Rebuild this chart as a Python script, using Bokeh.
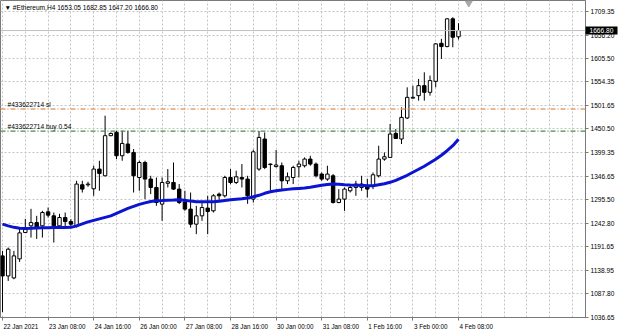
from bokeh.plotting import figure
from bokeh.models import FixedTicker, Range1d, Label, Span, PrintfTickFormatter, ColumnDataSource, LinearAxis
from bokeh.embed import file_html
from bokeh.resources import INLINE

# ---------------- data ----------------
chart_title = "\u25bc  #Ethereum,H4  1653.05 1682.85 1647.20 1666.80"

opens = [1171.1, 1127.0, 1122.6, 1164.5, 1222.4, 1237.2, 1244.4, 1237.2, 1268.0, 1259.2,
         1237.2, 1255.5, 1246.6, 1237.2, 1327.5, 1327.5, 1318.7, 1362.1, 1347.3, 1435.5,
         1442.7, 1391.4, 1417.2, 1398.7, 1343.6, 1376.6, 1340.1, 1321.6, 1285.0, 1330.8,
         1332.6, 1318.0, 1290.1, 1274.0, 1240.9, 1259.2, 1276.2, 1270.2, 1307.0, 1303.3,
         1343.6, 1332.6, 1343.6, 1340.1, 1296.0, 1362.1, 1428.2, 1373.1, 1367.5, 1369.4,
         1336.3, 1343.6, 1367.2, 1369.4, 1384.1, 1373.1, 1351.1, 1340.1, 1347.3, 1288.5,
         1296.0, 1314.3, 1321.6, 1321.6, 1325.3, 1325.3, 1347.3, 1384.1, 1387.7, 1440.5,
         1428.2, 1474.5, 1518.1, 1523.6, 1545.6, 1530.9, 1555.1, 1638.8, 1631.6, 1692.6,
         1653.05]
highs = [1182.1, 1189.4, 1182.1, 1230.6, 1252.6, 1274.6, 1259.2, 1270.2, 1277.5, 1266.5,
         1263.6, 1266.5, 1252.0, 1336.3, 1336.3, 1334.1, 1369.4, 1380.4, 1479.5, 1442.7,
         1446.5, 1446.5, 1446.5, 1406.2, 1380.4, 1380.4, 1347.3, 1343.6, 1343.6, 1362.1,
         1376.6, 1329.1, 1314.3, 1310.5, 1281.2, 1292.3, 1303.3, 1307.0, 1310.5, 1347.3,
         1362.1, 1358.4, 1373.1, 1347.3, 1404.7, 1446.0, 1442.7, 1374.5, 1404.0, 1376.6,
         1354.6, 1369.4, 1380.4, 1387.7, 1391.4, 1376.6, 1354.6, 1369.4, 1351.1, 1318.0,
         1321.6, 1325.3, 1336.3, 1347.3, 1340.7, 1354.6, 1413.4, 1398.7, 1461.3, 1450.2,
         1497.8, 1541.9, 1545.6, 1560.4, 1575.0, 1567.7, 1639.0, 1648.5, 1694.0, 1696.1,
         1682.85]
lows = [1047.7, 1116.0, 1119.7, 1157.8, 1221.7, 1211.4, 1208.5, 1211.4, 1255.5, 1200.4,
        1232.8, 1233.4, 1233.4, 1233.4, 1310.5, 1323.1, 1303.3, 1314.3, 1346.2, 1434.4,
        1384.1, 1380.4, 1395.8, 1310.5, 1314.3, 1296.0, 1307.0, 1281.2, 1248.2, 1321.6,
        1316.0, 1285.0, 1270.2, 1233.4, 1218.9, 1248.2, 1218.9, 1266.5, 1292.3, 1299.5,
        1329.1, 1329.1, 1321.6, 1285.7, 1288.5, 1358.4, 1362.0, 1314.3, 1365.6, 1318.0,
        1329.1, 1329.1, 1343.6, 1365.6, 1369.4, 1343.6, 1336.3, 1336.3, 1286.3, 1287.0,
        1270.2, 1310.5, 1303.3, 1314.3, 1299.5, 1318.0, 1343.6, 1380.4, 1387.7, 1428.2,
        1417.2, 1472.3, 1517.0, 1512.6, 1512.6, 1523.6, 1541.9, 1604.5, 1630.0, 1630.0,
        1647.20]
closes = [1127.0, 1185.8, 1171.1, 1221.7, 1233.4, 1244.4, 1233.4, 1266.5, 1260.7, 1237.2,
          1255.5, 1246.6, 1240.9, 1329.1, 1318.0, 1329.1, 1362.1, 1352.4, 1435.5, 1440.5,
          1391.4, 1418.5, 1398.7, 1347.3, 1376.6, 1340.1, 1321.6, 1288.5, 1332.6, 1334.1,
          1318.0, 1288.5, 1274.0, 1240.9, 1259.2, 1277.5, 1268.7, 1303.3, 1303.3, 1343.6,
          1332.6, 1345.1, 1340.1, 1303.3, 1400.0, 1431.7, 1365.6, 1372.0, 1371.0, 1336.3,
          1345.1, 1365.6, 1373.1, 1384.1, 1373.1, 1347.3, 1340.1, 1351.1, 1288.5, 1296.0,
          1318.0, 1321.6, 1329.1, 1329.1, 1318.0, 1349.5, 1384.1, 1389.2, 1439.2, 1429.5,
          1475.8, 1519.9, 1519.9, 1545.6, 1530.9, 1556.7, 1637.5, 1631.6, 1692.6, 1652.1,
          1666.80]
ma_values = [1240.9, 1237.2, 1233.9, 1231.7, 1231.2, 1231.7, 1232.3, 1232.8, 1233.2, 1233.4,
             1233.4, 1233.4, 1233.9, 1237.2, 1241.6, 1246.0, 1249.3, 1252.6, 1255.9, 1259.2,
             1264.7, 1270.2, 1275.7, 1280.1, 1284.5, 1287.8, 1290.7, 1292.3, 1292.9, 1293.6,
             1293.8, 1294.5, 1293.4, 1291.6, 1290.1, 1290.1, 1290.1, 1290.1, 1291.2, 1292.9,
             1294.5, 1295.6, 1296.7, 1298.2, 1301.1, 1304.4, 1308.8, 1312.1, 1314.3, 1315.8,
             1317.4, 1318.7, 1319.6, 1320.4, 1322.0, 1324.2, 1326.4, 1328.2, 1329.1, 1328.6,
             1327.5, 1326.8, 1326.4, 1326.4, 1325.3, 1325.3, 1327.5, 1329.7, 1333.0, 1337.4,
             1342.9, 1348.4, 1355.0, 1361.6, 1368.3, 1376.0, 1383.7, 1392.5, 1402.4, 1413.4,
             1427.8]

date_labels = {0: "22 Jan 2021", 8: "23 Jan 08:00", 16: "24 Jan 16:00", 24: "26 Jan 00:00",
               32: "27 Jan 08:00", 40: "28 Jan 16:00", 48: "30 Jan 00:00", 56: "31 Jan 08:00",
               64: "1 Feb 16:00", 72: "3 Feb 00:00", 80: "4 Feb 08:00"}
price_ticks = [1036.65, 1087.80, 1138.95, 1191.65, 1242.80, 1295.50, 1346.65, 1399.35,
               1450.50, 1501.65, 1554.35, 1605.50, 1656.20, 1709.35]
grid_bars = list(range(0, 104, 4))

sl_price = 1494.2
sl_text = "#433622714 sl"
buy_price = 1445.5
buy_text = "#433622714 buy 0.54"
last_price = 1666.80
shift_marker_bar = 81.8

# ---------------- plot ----------------
FONT = "Liberation Sans"
AX_FS = 6.6      # px, right axis labels
X_FS = 6.3       # px, time axis labels
BAR_PX = 5.7     # pixel pitch of one bar

idx = list(range(len(opens)))
bull = [c >= o for o, c in zip(opens, closes)]
src = ColumnDataSource(dict(
    x=idx, high=highs, low=lows,
    top=[max(o, c) for o, c in zip(opens, closes)],
    bottom=[min(o, c) for o, c in zip(opens, closes)],
    fill=["white" if b else "black" for b in bull],
))

p = figure(width=620, height=333, output_backend="svg", toolbar_location=None,
           x_range=Range1d(-0.351, 102.28), y_range=Range1d(1035.55, 1732.93),
           y_axis_location="right",
           min_border_left=0, min_border_top=0, min_border_right=35, min_border_bottom=16,
           background_fill_color="white", border_fill_color="white")
p.outline_line_color = "#7a7a7a"

# grids
p.xgrid.ticker = FixedTicker(ticks=grid_bars)
for g in (p.xgrid, p.ygrid):
    g.grid_line_color = "#c4c4c4"
    g.grid_line_dash = "2 2"
    g.grid_line_width = 1

# time axis: labels start at their tick (MT4 style) -> shift label centre by half its width
CW = {" ": .278, ":": .278, "J": .5, "F": .611, "a": .556, "n": .556, "e": .556, "b": .556}
def text_w(s, fs):
    return sum(CW.get(ch, .556) for ch in s) * fs

label_pos = {}
for b, s in date_labels.items():
    c = round(b + (1.0 + text_w(s, X_FS) / 2) / BAR_PX, 4)
    label_pos[c] = s
p.xaxis.ticker = FixedTicker(ticks=list(label_pos.keys()), minor_ticks=list(date_labels.keys()))
p.xaxis.major_label_overrides = label_pos
p.xaxis.major_tick_line_color = None
p.xaxis.minor_tick_line_color = "#7a7a7a"
p.xaxis.minor_tick_out = 3
p.xaxis.minor_tick_in = 0
p.xaxis.major_tick_out = 3
p.xaxis.major_tick_in = 0
p.xaxis.major_label_text_font_size = f"{X_FS}px"

# price axis
p.yaxis.ticker = FixedTicker(ticks=price_ticks)
p.yaxis.formatter = PrintfTickFormatter(format="%.2f")
p.yaxis.major_tick_line_color = "#7a7a7a"
p.yaxis.major_tick_out = 3
p.yaxis.major_tick_in = 0
p.yaxis.minor_tick_line_color = None
p.yaxis.major_label_text_font_size = f"{AX_FS}px"

for ax in (p.xaxis, p.yaxis):
    ax.axis_line_color = "#7a7a7a"
    ax.major_label_standoff = 2
    ax.major_label_text_font = FONT
    ax.major_label_text_color = "black"

# last-price tag on the price scale (outer axis drawn back over the scale)
tag_w = int(round(text_w("1666.80", AX_FS)))
price_tag = LinearAxis(ticker=FixedTicker(ticks=[last_price]),
                       formatter=PrintfTickFormatter(format="%.2f"),
                       axis_line_color=None, minor_tick_line_color=None,
                       major_tick_line_color="black", major_tick_line_width=8,
                       major_tick_in=tag_w + 6, major_tick_out=0,
                       major_label_standoff=-(tag_w + 2),
                       major_label_text_color="white", major_label_text_font=FONT,
                       major_label_text_font_size=f"{AX_FS}px")
p.add_layout(price_tag, "right")

# horizontal levels
p.add_layout(Span(location=last_price, dimension="width", line_color="#c0c0c0", line_width=1))
p.add_layout(Span(location=sl_price, dimension="width", line_color="#e2a374",
                  line_width=1.6, line_dash="5 2 1 2"))
p.add_layout(Span(location=buy_price, dimension="width", line_color="#4b8b4b",
                  line_width=1.4, line_dash="5 2 1 2"))

# candles
p.segment(x0="x", y0="low", x1="x", y1="high", source=src, line_color="black", line_width=1)
p.vbar(x="x", width=0.6, top="top", bottom="bottom", source=src,
       fill_color="fill", line_color="black", line_width=1)

# moving average
p.line(idx, ma_values, line_color="#0a14d2", line_width=3)

# chart shift marker
p.scatter([shift_marker_bar], [1727.5], marker="inverted_triangle", size=7,
          fill_color="#a8a8a8", line_color="#a8a8a8")

# texts
p.add_layout(Label(x=4, y=1717.5, x_units="screen", text=chart_title, text_font=FONT,
                   text_font_size=f"{AX_FS}px", text_baseline="middle", text_color="black"))
p.add_layout(Label(x=7, y=sl_price, x_units="screen", y_offset=1, text=sl_text, text_font=FONT,
                   text_font_size=f"{AX_FS}px", text_baseline="bottom", text_color="black"))
p.add_layout(Label(x=7, y=buy_price, x_units="screen", y_offset=1, text=buy_text, text_font=FONT,
                   text_font_size=f"{AX_FS}px", text_baseline="bottom", text_color="black"))

open("out.html", "w").write(file_html(p, INLINE))
